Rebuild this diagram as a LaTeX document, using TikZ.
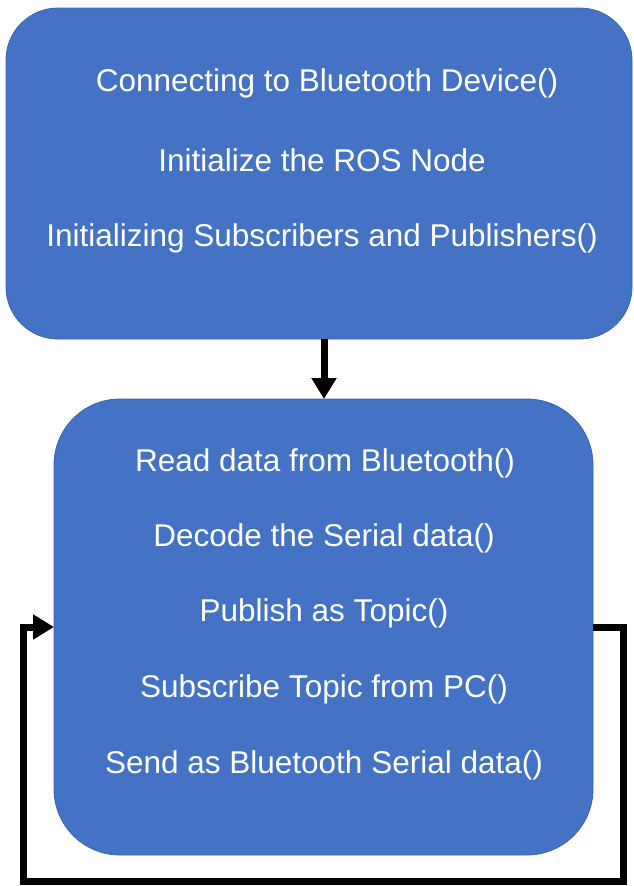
\documentclass[tikz,border=0pt]{standalone}
\usepackage{fontspec}
\setmainfont{Liberation Sans}
\usetikzlibrary{arrows.meta}
\definecolor{boxblue}{HTML}{4472C4}
\definecolor{boxedge}{HTML}{3A65B0}
\tikzset{
  blk/.style={fill=boxblue, draw=boxedge, line width=0.8pt},
  txt/.style={text=white, font=\fontsize{31.5}{34}\selectfont, inner sep=0pt},
  conn/.style={line width=7pt, -{Triangle[length=21pt,width=24pt]}},
}
\begin{document}
\begin{tikzpicture}[x=1pt,y=-1pt]
\useasboundingbox (0,0) rectangle (634,886);
\fill[white] (0,0) rectangle (634,886);
\draw[blk, rounded corners=52pt] (6,8) rectangle (632,339);
\draw[blk, rounded corners=66pt] (54,399) rectangle (593,855);
\node[txt] (t1) at (327,83) {Connecting to Bluetooth Device()};
\node[txt] (t2) at (322,160) {Initialize the ROS Node};
\node[txt] (t3) at (322,238) {Initializing Subscribers and Publishers()};
\node[txt] (b1) at (325,463) {Read data from Bluetooth()};
\node[txt] (b2) at (324,538) {Decode the Serial data()};
\node[txt] (b3) at (324,613) {Publish as Topic()};
\node[txt] (b4) at (324,689) {Subscribe Topic from PC()};
\node[txt] (b5) at (324,765) {Send as Bluetooth Serial data()};
\coordinate (top) at (324,339);
\coordinate (bot) at (324,399);
\draw[conn] (top) -- (bot);
\coordinate (out) at (593,627);
\coordinate (in) at (54,627);
\draw[conn, line join=miter] (out) -- (623,627) -- (623,881) -- (23,881) -- (23,627) -- (in);
\end{tikzpicture}
\end{document}
